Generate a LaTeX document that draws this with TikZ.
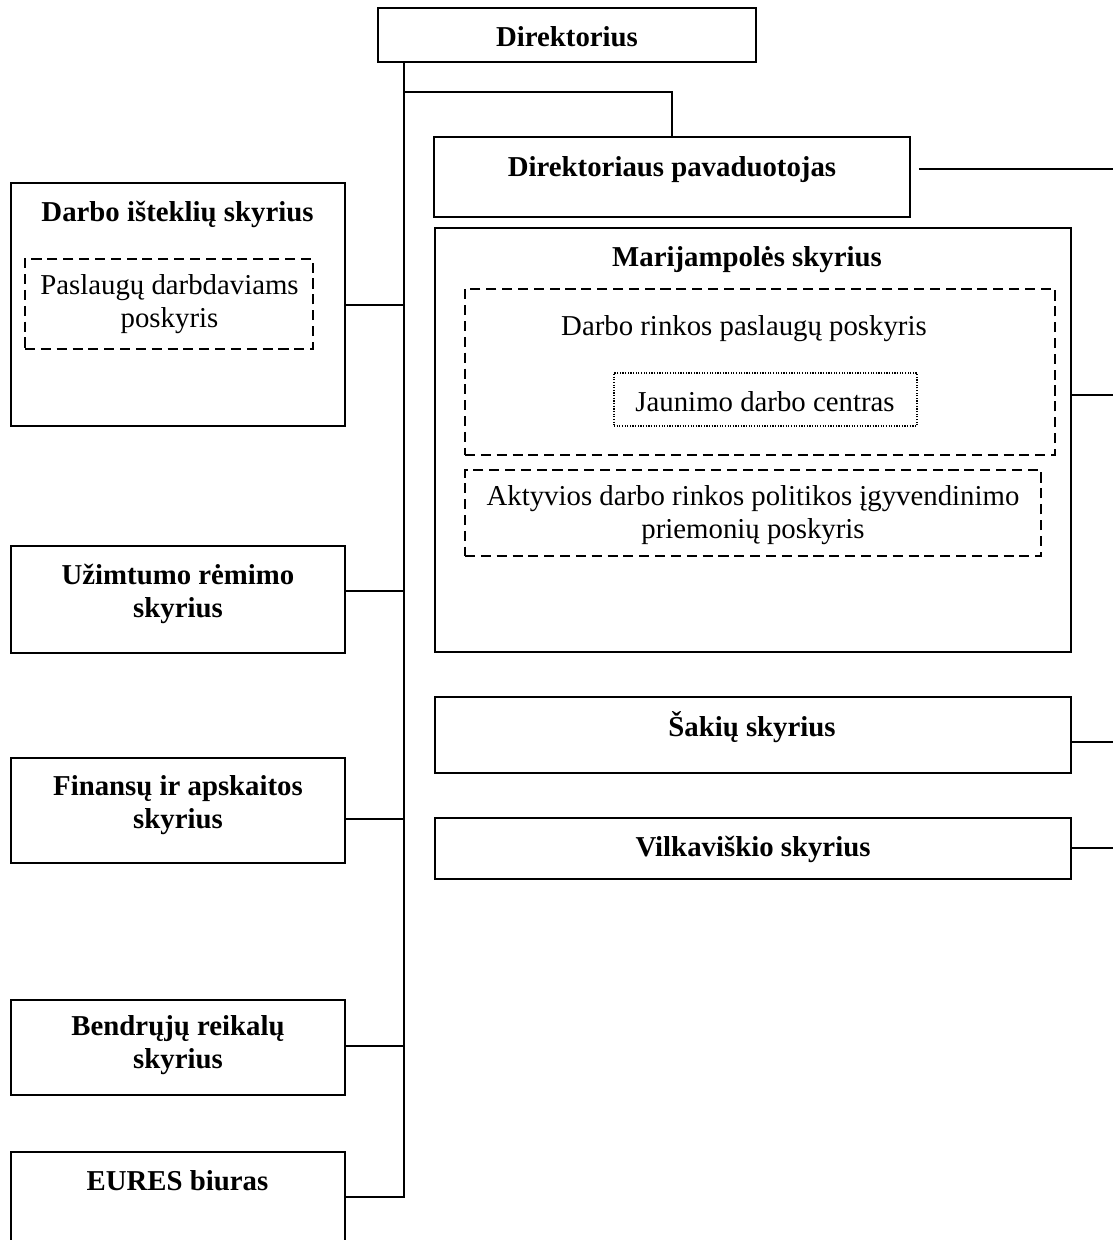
\documentclass[tikz,border=0pt]{standalone}
\usepackage{fontspec}
\setmainfont{Liberation Serif}
\usetikzlibrary{positioning}
\newcommand{\pu}{0.41667pt}

\begin{document}
\begin{tikzpicture}[x=\pu,y=-\pu,
    unit/.style={draw,line width=0.8pt,inner sep=0pt},
    sub unit/.style={draw,line width=0.6pt,dash pattern=on 4.2pt off 2.4pt,inner sep=0pt},
    center unit/.style={draw,line width=0.6pt,dash pattern=on 0.5pt off 0.6pt,inner sep=0pt},
    title/.style={font=\fontsize{12}{13.8}\selectfont\bfseries,align=center,inner sep=0pt},
    subtitle/.style={font=\fontsize{12}{13.8}\selectfont,align=center,inner sep=0pt},
    link/.style={line width=0.6pt}]

  \useasboundingbox (0,0) rectangle (1113,1240);

  % top
  \node[unit,minimum width=378*\pu,minimum height=54*\pu] (dir) at (567,35) {};
  \node[title] (dir-t) at (567,37) {Direktorius};

  \node[unit,minimum width=476*\pu,minimum height=80*\pu] (pav) at (672,177) {};
  \node[title] (pav-t) at (672,170) {Direktoriaus pavaduotojas};

  % right column
  \node[unit,minimum width=636*\pu,minimum height=424*\pu] (mar) at (753,440) {};
  \node[title] (mar-t) at (747,260) {Marijampolės skyrius};
  \node[sub unit,minimum width=590*\pu,minimum height=166*\pu] (drp) at (760,372) {};
  \node[subtitle] (drp-t) at (744,329) {Darbo rinkos paslaugų poskyris};
  \node[center unit,minimum width=303*\pu,minimum height=53*\pu] (jdc) at (765.5,399.5) {};
  \node[subtitle] (jdc-t) at (765,402) {Jaunimo darbo centras};
  \node[sub unit,minimum width=576*\pu,minimum height=86*\pu] (adr) at (753,513) {};
  \node[subtitle] (adr-t) at (753,515) {Aktyvios darbo rinkos politikos įgyvendinimo\\priemonių poskyris};

  \node[unit,minimum width=636*\pu,minimum height=76*\pu] (sak) at (753,735) {};
  \node[title] (sak-t) at (752,727) {Šakių skyrius};
  \node[unit,minimum width=636*\pu,minimum height=61*\pu] (vil) at (753,848.5) {};
  \node[title] (vil-t) at (753,849) {Vilkaviškio skyrius};

  % left column
  \node[unit,minimum width=334*\pu,minimum height=243*\pu] (ist) at (178,304.5) {};
  \node[title] (ist-t) at (177.5,214) {Darbo išteklių skyrius};
  \node[sub unit,minimum width=288*\pu,minimum height=90*\pu] (pdp) at (169,304) {};
  \node[subtitle] (pdp-t) at (169.5,304) {Paslaugų darbdaviams\\poskyris};

  \node[unit,minimum width=334*\pu,minimum height=107*\pu] (uzi) at (178,599.5) {};
  \node[title] (uzi-t) at (178,594) {Užimtumo rėmimo\\skyrius};

  \node[unit,minimum width=334*\pu,minimum height=105*\pu] (fin) at (178,810.5) {};
  \node[title] (fin-t) at (178,805) {Finansų ir apskaitos\\skyrius};

  \node[unit,minimum width=334*\pu,minimum height=95*\pu] (ben) at (178,1047.5) {};
  \node[title] (ben-t) at (178,1045) {Bendrųjų reikalų\\skyrius};

  \node[unit,minimum width=334*\pu,minimum height=98*\pu] (eur) at (178,1201) {};
  \node[title] (eur-t) at (177.5,1181) {EURES biuras};

  % connectors
  \coordinate (tr) at (404,1198);
  \coordinate (br) at (404,92);
  \coordinate (rt) at (1113,0);

  \draw[link] (dir.south -| tr) -- (tr);
  \draw[link] (br) -| (pav.north);
  \foreach \n/\y in {ist/305,uzi/591,fin/819,ben/1046,eur/1197}
    \draw[link] (\n.east |- 0,\y) -- (tr |- 0,\y);
  \foreach \n/\y in {mar/395,sak/742,vil/848}
    \draw[link] (\n.east |- 0,\y) -- (rt |- 0,\y);
  \draw[link,shorten <=3.3pt] (pav.east |- 0,169) -- (rt |- 0,169);

\end{tikzpicture}
\end{document}
